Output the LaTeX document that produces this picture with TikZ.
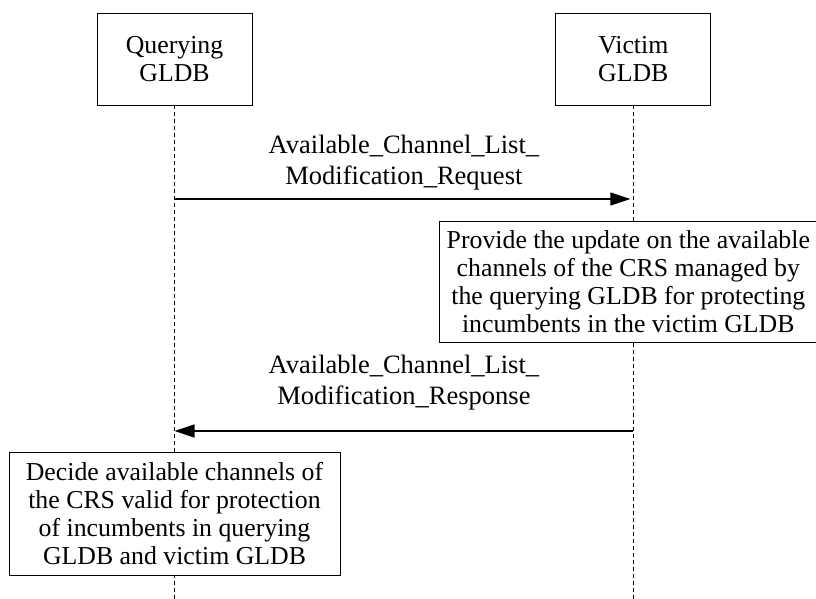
\documentclass[tikz,border=0pt]{standalone}
\usepackage{fontspec}
\setmainfont{Liberation Serif}
\usetikzlibrary{positioning,calc,arrows.meta}

\begin{document}
\begin{tikzpicture}[x=1pt,y=-1pt]
    \tikzstyle{entity}=[draw, fill=white, line width=0.8pt, align=center, minimum width=155pt, minimum height=92pt, font=\fontsize{25.8}{28}\selectfont]
    \tikzstyle{action}=[draw, fill=white, line width=0.8pt, align=center, inner xsep=2pt, font=\fontsize{25.8}{28}\selectfont]
    \tikzstyle{lifeline}=[dash pattern=on 4pt off 3pt, line width=0.8pt]
    \tikzstyle{msg}=[line width=1.3pt, -{Triangle[length=20pt,width=13pt]}]
    \tikzstyle{msglabel}=[align=center, inner sep=0pt, font=\fontsize{26.5}{31}\selectfont]
    \useasboundingbox (0,0) rectangle (816,599);

    \node (QG) [entity] at (174.5,59) {Querying\\GLDB};
    \node (VG) [entity, right=303pt of QG] {Victim\\GLDB};

    \coordinate (QEnd) at (QG.south |- 0,599);
    \coordinate (VEnd) at (VG.south |- 0,599);
    \draw [lifeline] (QG.south) -- (QEnd);
    \draw [lifeline] (VG.south) -- (VEnd);

    \coordinate (QReq) at (QG.south |- 0,199);
    \coordinate (VReq) at (VG.south |- 0,199);
    \draw [msg, shorten >=3pt] (QReq) -- node[msglabel, above=8pt]{Available\_Channel\_List\_\\Modification\_Request} (VReq);

    \node (Upd) [action, minimum width=378pt, minimum height=121pt, below=22pt of VReq, xshift=-5pt] {Provide the update on the available\\channels of the CRS managed by\\the querying GLDB for protecting\\incumbents in the victim GLDB};

    \coordinate (QResp) at (QG.south |- 0,431);
    \coordinate (VResp) at (VG.south |- 0,431);
    \draw [msg] (VResp) -- node[msglabel, above=20pt]{Available\_Channel\_List\_\\Modification\_Response} (QResp);

    \node (Dec) [action, minimum width=331pt, minimum height=123pt, below=21pt of QResp] {Decide available channels of\\the CRS valid for protection\\of incumbents in querying\\GLDB and victim GLDB};

\end{tikzpicture}
\end{document}
